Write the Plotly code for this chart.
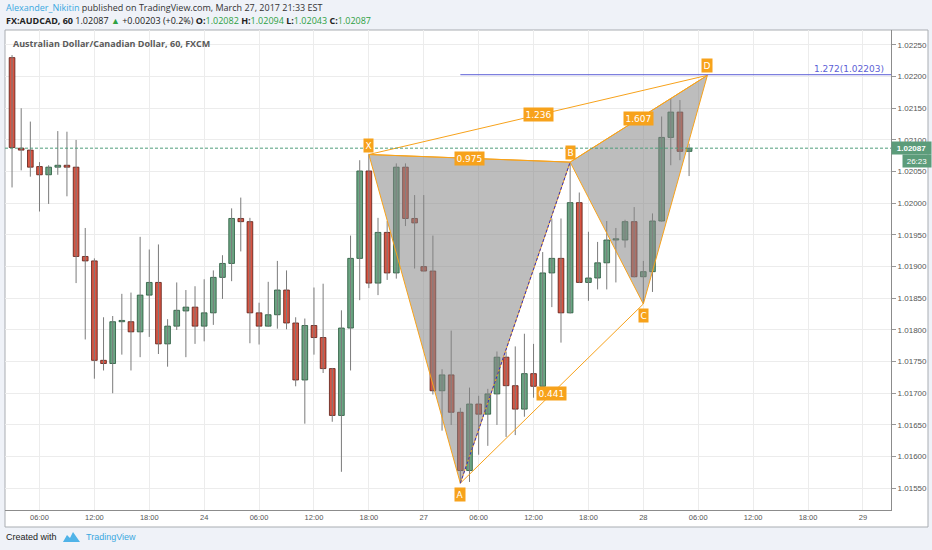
import plotly.graph_objects as go

# ---------------- data (AUDCAD, 60 min, FXCM) ----------------
opens = [1.02230, 1.02087, 1.02084, 1.02058, 1.02045, 1.02057, 1.02060, 1.02057, 1.01916, 1.01909,
         1.01752, 1.01747, 1.01813, 1.01813, 1.01797, 1.01855, 1.01875, 1.01778, 1.01806, 1.01830,
         1.01836, 1.01806, 1.01827, 1.01883, 1.01905, 1.01976, 1.01971, 1.01827, 1.01806, 1.01824,
         1.01863, 1.01811, 1.01721, 1.01807, 1.01788, 1.01739, 1.01665, 1.01803, 1.01913, 1.02051,
         1.01874, 1.01954, 1.01890, 1.02057, 1.01976, 1.01900, 1.01893, 1.01704, 1.01729, 1.01670,
         1.01578, 1.01683, 1.01667, 1.01699, 1.01757, 1.01712, 1.01675, 1.01731, 1.01711, 1.01890,
         1.01913, 1.01827, 1.02001, 1.01875, 1.01882, 1.01906, 1.01942, 1.01942, 1.01971, 1.01884,
         1.01892, 1.01972, 1.02104, 1.02144, 1.02082]
highs = [1.02234, 1.02150, 1.02129, 1.02065, 1.02060, 1.02114, 1.02113, 1.02100, 1.01961, 1.01913,
         1.01820, 1.01822, 1.01857, 1.01859, 1.01947, 1.01927, 1.01935, 1.01817, 1.01875, 1.01863,
         1.01869, 1.01880, 1.01894, 1.01918, 1.01992, 1.02009, 1.01977, 1.01843, 1.01876, 1.01909,
         1.01894, 1.01820, 1.01818, 1.01867, 1.01873, 1.01740, 1.01831, 1.01949, 1.02068, 1.02077,
         1.01977, 1.01972, 1.02063, 1.02063, 1.02013, 1.02013, 1.01949, 1.01738, 1.01799, 1.01677,
         1.01709, 1.01696, 1.01707, 1.01766, 1.01766, 1.01774, 1.01794, 1.01778, 1.01923, 1.01976,
         1.01976, 1.02065, 1.02017, 1.01955, 1.01939, 1.01972, 1.01961, 1.01974, 1.01994, 1.01909,
         1.01984, 1.02137, 1.02166, 1.02163, 1.02094]
lows = [1.02025, 1.02052, 1.02042, 1.01987, 1.01999, 1.02045, 1.02011, 1.01874, 1.01785, 1.01723,
        1.01736, 1.01700, 1.01761, 1.01736, 1.01757, 1.01789, 1.01762, 1.01742, 1.01800, 1.01757,
        1.01778, 1.01782, 1.01808, 1.01849, 1.01877, 1.01924, 1.01779, 1.01777, 1.01805, 1.01802,
        1.01801, 1.01711, 1.01652, 1.01761, 1.01732, 1.01655, 1.01576, 1.01736, 1.01847, 1.01866,
        1.01855, 1.01879, 1.01881, 1.01964, 1.01897, 1.01893, 1.01698, 1.01641, 1.01650, 1.01558,
        1.01560, 1.01603, 1.01617, 1.01650, 1.01631, 1.01634, 1.01663, 1.01693, 1.01703, 1.01836,
        1.01780, 1.01826, 1.01874, 1.01846, 1.01864, 1.01864, 1.01875, 1.01930, 1.01883, 1.01841,
        1.01860, 1.01971, 1.02060, 1.02068, 1.02043]
closes = [1.02088, 1.02084, 1.02057, 1.02045, 1.02057, 1.02060, 1.02057, 1.01916, 1.01909, 1.01752,
          1.01747, 1.01813, 1.01815, 1.01797, 1.01855, 1.01875, 1.01778, 1.01806, 1.01831, 1.01836,
          1.01806, 1.01827, 1.01883, 1.01905, 1.01976, 1.01971, 1.01827, 1.01806, 1.01824, 1.01863,
          1.01811, 1.01721, 1.01807, 1.01788, 1.01739, 1.01665, 1.01803, 1.01913, 1.02051, 1.01874,
          1.01954, 1.01890, 1.02057, 1.01976, 1.01969, 1.01893, 1.01704, 1.01729, 1.01670, 1.01578,
          1.01683, 1.01667, 1.01699, 1.01757, 1.01712, 1.01675, 1.01731, 1.01711, 1.01890, 1.01913,
          1.01827, 1.02001, 1.01875, 1.01882, 1.01906, 1.01942, 1.01944, 1.01971, 1.01884, 1.01892,
          1.01972, 1.02104, 1.02144, 1.02082, 1.02087]

tick_positions = [3, 9, 15, 21, 27, 33, 39, 45, 51, 57, 63, 69, 75, 81, 87, 93]
tick_labels = ["06:00", "12:00", "18:00", "24", "06:00", "12:00", "18:00", "27",
               "06:00", "12:00", "18:00", "28", "06:00", "12:00", "18:00", "29"]
price_ticks = [1.01550, 1.01600, 1.01650, 1.01700, 1.01750, 1.01800, 1.01850, 1.01900,
               1.01950, 1.02000, 1.02050, 1.02100, 1.02150, 1.02200, 1.02250]

# Harmonic (XABCD) pattern points: bar index, price
pattern_names = ["X", "A", "B", "C", "D"]
pattern_x = [39, 49, 61, 69, 76]
pattern_y = [1.02077, 1.01558, 1.02065, 1.01841, 1.02202]
ratio_labels = {"XB": "0.975", "XD": "1.236", "AC": "0.441", "BD": "1.607"}
fib_label = "1.272"
fib_value = 1.02203

last_close = closes[-1]
countdown = "26:23"

# ---------------- styling ----------------
UP, UP_LINE = "#6ba583", "#225437"
DN, DN_LINE = "#d75442", "#5b1a13"
WICK = "#7b7b7b"
ORANGE = "#f7a21b"
FIB_BLUE = "#5c5fd6"
TAG_GREEN = "#5c9c7a"

W, H = 932, 550
L, R, T, B = 5, 891, 30, 510      # plot area in pixels


def px(xp):
    return (xp - L) / (R - L)


def py(yp):
    return (B - yp) / (B - T)


n = len(opens)
idx = list(range(n))

fig = go.Figure()

# wicks
wx, wy = [], []
for i in idx:
    wx += [i, i, None]
    wy += [lows[i], highs[i], None]
fig.add_trace(go.Scatter(x=wx, y=wy, mode="lines", line=dict(color=WICK, width=1),
                         hoverinfo="skip"))

# bodies
up_i = [i for i in idx if closes[i] >= opens[i]]
dn_i = [i for i in idx if closes[i] < opens[i]]
fig.add_trace(go.Bar(x=up_i, y=[closes[i] - opens[i] for i in up_i],
                     base=[opens[i] for i in up_i], width=0.62,
                     marker=dict(color=UP, line=dict(color=UP_LINE, width=0.8))))
fig.add_trace(go.Bar(x=dn_i, y=[opens[i] - closes[i] for i in dn_i],
                     base=[closes[i] for i in dn_i], width=0.62,
                     marker=dict(color=DN, line=dict(color=DN_LINE, width=0.8))))

P = dict(zip(pattern_names, zip(pattern_x, pattern_y)))

# filled triangles XAB and BCD
for tri in (["X", "A", "B"], ["B", "C", "D"]):
    fig.add_trace(go.Scatter(x=[P[k][0] for k in tri] + [P[tri[0]][0]],
                             y=[P[k][1] for k in tri] + [P[tri[0]][1]],
                             mode="lines", fill="toself",
                             fillcolor="rgba(135,135,135,0.55)",
                             line=dict(color=ORANGE, width=1), hoverinfo="skip"))

# connecting lines X-B, X-D, A-C, B-D
for a, b in (("X", "B"), ("X", "D"), ("A", "C"), ("B", "D")):
    fig.add_trace(go.Scatter(x=[P[a][0], P[b][0]], y=[P[a][1], P[b][1]], mode="lines",
                             line=dict(color=ORANGE, width=1), hoverinfo="skip"))
# A-B dashed
fig.add_trace(go.Scatter(x=[P["A"][0], P["B"][0]], y=[P["A"][1], P["B"][1]], mode="lines",
                         line=dict(color="#2f2fc8", width=1, dash="3px,2px"), hoverinfo="skip"))

x_min, x_max = -0.77, 96.07
y_min, y_max = 1.015157, 1.022736

shapes = [
    # chart box
    dict(type="rect", xref="paper", yref="paper", x0=px(5), x1=px(928), y0=py(527), y1=py(30),
         fillcolor="white", line=dict(color="#a9adb2", width=1), layer="below"),
    # current price line
    dict(type="line", xref="paper", yref="y", x0=0, x1=1, y0=last_close, y1=last_close,
         line=dict(color="#4f9e7c", width=1, dash="3px,2px")),
    # fib extension line
    dict(type="line", xref="x", yref="y", x0=P["A"][0], x1=x_max, y0=fib_value, y1=fib_value,
         line=dict(color=FIB_BLUE, width=1)),
]

LBL_FONT = dict(family="DejaVu Sans", size=9, color="white")
ann = []
# point labels
offsets = {"X": ("bottom", 2), "A": ("top", -4), "B": ("bottom", 2), "C": ("top", -4), "D": ("bottom", 2)}
for k in pattern_names:
    ya, ys = offsets[k]
    ann.append(dict(x=P[k][0], y=P[k][1], xref="x", yref="y", text=k, showarrow=False,
                    yanchor=ya, yshift=ys, bgcolor=ORANGE, borderpad=1.5, font=LBL_FONT))
# ratio labels at segment midpoints
for seg, txt in ratio_labels.items():
    a, b = seg[0], seg[1]
    ann.append(dict(x=(P[a][0] + P[b][0]) / 2, y=(P[a][1] + P[b][1]) / 2, xref="x", yref="y",
                    text=txt, showarrow=False, bgcolor=ORANGE, borderpad=1.5, font=LBL_FONT))
# fib label
ann.append(dict(x=x_max, y=fib_value, xref="x", yref="y", xanchor="right", yanchor="bottom",
                xshift=-5, yshift=-1, text=f"{fib_label}({fib_value:.5f})", showarrow=False,
                font=dict(family="DejaVu Sans", size=9, color=FIB_BLUE)))
# price tags on the axis
ann.append(dict(x=px(891), y=last_close, xref="paper", yref="y", xanchor="left",
                text=f"<b>{last_close:.5f}</b>", showarrow=False, bgcolor=TAG_GREEN,
                width=38, height=11, borderpad=0.5,
                font=dict(family="Liberation Sans", size=8, color="white")))
ann.append(dict(x=px(932), y=last_close, xref="paper", yref="y", xanchor="right", yshift=-12.5,
                text=countdown, showarrow=False, bgcolor=TAG_GREEN,
                width=27, height=11, borderpad=0.5,
                font=dict(family="Liberation Sans", size=8, color="white")))
# chart title
ann.append(dict(x=px(11), y=py(43), xref="paper", yref="paper", xanchor="left", yanchor="middle",
                text="<b>Australian Dollar/Canadian Dollar, 60, FXCM</b>", showarrow=False,
                font=dict(family="Open Sans", size=9, color="#5a5a5a")))
# header
ann.append(dict(x=px(4), y=py(8), xref="paper", yref="paper", xanchor="left", yanchor="middle",
                text="<span style='color:#3aa8e0'>Alexander_Nikitin</span> published on "
                     "TradingView.com, March 27, 2017 21:33 EST",
                showarrow=False, font=dict(family="Open Sans", size=9, color="#333333")))
G = "#2ea043"
hdr2 = (f"<b>FX:AUDCAD, 60</b> {last_close:.5f} <span style='color:{G}'>▲</span> +0.00203 (+0.2%) "
        f"<b>O:</b><span style='color:{G}'>{opens[-1]:.5f}</span> "
        f"<b>H:</b><span style='color:{G}'>{highs[-1]:.5f}</span> "
        f"<b>L:</b><span style='color:{G}'>{lows[-1]:.5f}</span> "
        f"<b>C:</b><span style='color:{G}'>{closes[-1]:.5f}</span>")
ann.append(dict(x=px(4), y=py(21), xref="paper", yref="paper", xanchor="left", yanchor="middle",
                text=hdr2, showarrow=False, font=dict(family="Open Sans", size=9, color="#222222")))
# footer
ann.append(dict(x=px(4), y=py(537), xref="paper", yref="paper", xanchor="left", yanchor="middle",
                text="Created with", showarrow=False,
                font=dict(family="Liberation Sans", size=9, color="#222222")))
ann.append(dict(x=px(84), y=py(537), xref="paper", yref="paper", xanchor="left", yanchor="middle",
                text="TradingView", showarrow=False,
                font=dict(family="Liberation Sans", size=9, color="#3aa8e0")))
# footer logo
logo = [(63, 542), (67, 535), (70, 538), (73, 532), (80, 542)]
path = "M " + " L ".join(f"{px(a):.5f},{py(b):.5f}" for a, b in logo) + " Z"
shapes.append(dict(type="path", xref="paper", yref="paper", path=path,
                   fillcolor="#4fb3e8", line=dict(width=0)))

fig.update_layout(
    width=W, height=H,
    margin=dict(l=L, r=W - R, t=T, b=H - B),
    paper_bgcolor="#eff2f8", plot_bgcolor="white",
    showlegend=False, barmode="overlay", hovermode=False,
    shapes=shapes, annotations=ann,
    xaxis=dict(range=[x_min, x_max], tickvals=tick_positions, ticktext=tick_labels,
               showgrid=True, gridcolor="#ececec", gridwidth=1, zeroline=False,
               showline=True, linecolor="#8c8c8c", linewidth=1, ticks="",
               tickfont=dict(family="Liberation Sans", size=7.5, color="#555555"),
               fixedrange=True),
    yaxis=dict(range=[y_min, y_max], side="right", tickvals=price_ticks, tickformat=".5f",
               showgrid=True, gridcolor="#ececec", gridwidth=1, zeroline=False,
               showline=True, linecolor="#8c8c8c", linewidth=1,
               ticks="outside", ticklen=4, tickcolor="#999999",
               tickfont=dict(family="Liberation Sans", size=8, color="#555555"),
               fixedrange=True),
)

fig.write_html("out.html", config={"displayModeBar": False},
               post_script="document.body.style.margin='0px';"
                           "document.body.style.overflow='hidden';")
